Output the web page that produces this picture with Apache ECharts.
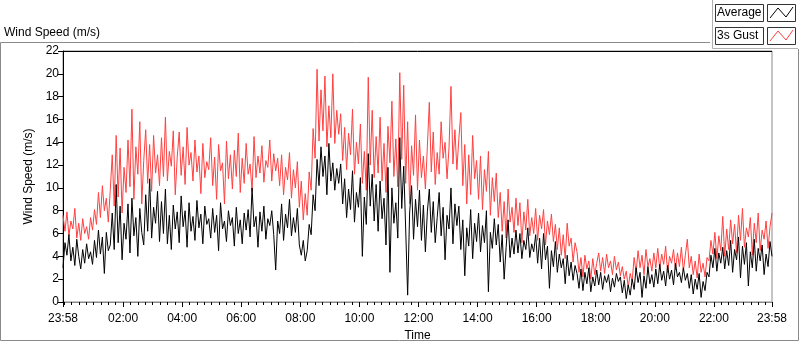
<!DOCTYPE html>
<html>
<head>
<meta charset="utf-8">
<script src="https://cdn.jsdelivr.net/npm/echarts@6/dist/echarts.min.js"></script>
<style>
  html, body { margin: 0; padding: 0; background: #fff; }
  #chart { width: 800px; height: 342px; }
</style>
</head>
<body>
<div id="chart"></div>
<script>
// one sample every 4 minutes, starting at 23:58
var stepMin = 4;
var startClock = 23 * 60 + 58;

var gust = [
  7.6, 6.2, 7.9, 5.8, 7.1, 6.4, 8.2, 5.6, 6.9, 5.4, 7.3, 6.0, 6.6, 5.5, 7.4, 6.3,
  8.1, 6.8, 9.6, 7.4, 10.2, 8.0, 9.1, 7.0, 9.8,
  12.9, 8.4, 14.6, 9.2, 13.5, 7.8, 11.8, 9.6,
  14.2, 10.1, 16.9, 9.0, 13.6, 11.2, 15.8, 8.6, 12.4,
  15.1, 10.4, 13.8, 9.7, 14.6, 11.3, 12.9, 10.2,
  14.4, 11.0, 16.2, 10.6, 13.2, 11.9, 15.0, 9.4, 12.7,
  14.9, 11.1, 13.6, 10.3, 15.3, 12.0, 13.1, 10.6,
  14.2, 11.4, 12.8, 9.5, 13.9, 10.9, 12.3, 11.6, 14.4,
  10.2, 12.7, 9.0, 13.8, 11.5, 12.2, 8.6, 14.1, 10.8, 12.9, 9.9, 13.3, 11.0, 14.8, 9.6,
  12.6, 10.4, 13.9, 11.2, 12.1, 9.7, 14.5, 10.9, 12.8,
  11.3, 13.7, 10.5, 12.4, 11.8, 14.2, 10.6, 13.0, 11.5, 12.6,
  10.2, 12.9, 9.4, 11.8, 10.7, 13.1, 9.1, 11.6, 10.0, 12.3,
  8.3, 10.6, 7.2, 9.5, 7.6,
  11.4, 9.8, 15.2, 12.6, 20.4,
  14.1, 18.6, 15.0, 19.8, 13.6, 17.2, 14.4, 20.0, 13.9, 16.8, 14.7,
  16.5, 12.4, 15.3, 11.6, 14.8, 12.9, 16.9, 11.2, 14.0, 12.1,
  15.6, 10.4, 13.2, 9.8, 19.7, 12.0, 16.8, 10.9, 14.5, 11.3,
  16.2, 10.6, 13.9, 9.6, 15.4, 12.2, 17.6, 11.0, 14.3, 10.1,
  20.1, 12.5, 19.0, 10.4, 15.8, 8.6, 13.7, 11.1, 16.4, 9.8,
  14.2, 10.9, 12.8, 9.9, 13.6, 17.5, 11.4, 14.9, 10.3, 13.1,
  11.2, 15.8, 12.6, 14.0, 10.8, 13.5, 18.9, 12.1, 15.1, 11.6,
  14.3, 16.6, 10.2, 13.8, 8.6, 12.9, 9.4, 14.6, 10.8, 12.4,
  9.0, 12.8, 8.1, 11.6, 9.7, 13.2, 7.6, 10.9, 8.8, 11.3,
  7.4, 9.6, 6.2, 8.8, 5.6, 9.9, 7.0, 8.3, 6.1, 9.1,
  6.7, 8.7, 5.2, 7.9, 6.3, 9.0, 5.8, 7.4, 6.0, 8.2,
  5.4, 7.6, 6.4, 8.1, 5.0, 7.1, 5.9, 7.7, 5.3, 6.8,
  4.6, 6.5, 4.1, 5.9, 3.8, 6.9, 4.9, 5.6, 3.5, 5.2,
  4.4, 2.6, 3.9, 2.2, 4.1, 2.9, 3.6, 2.0, 3.8, 2.4, 3.4,
  4.3, 2.7, 3.9, 2.5, 4.2, 3.0, 3.6, 2.4, 4.0, 2.8, 3.5, 2.3,
  3.1, 2.0, 2.7, 1.3, 2.5, 1.8,
  3.9, 2.6, 4.5, 3.0, 4.1, 2.4, 4.6, 3.1, 3.8, 2.7, 4.3,
  3.0, 4.7, 2.9, 4.2, 3.3, 4.9, 2.6, 4.0, 3.4, 4.6, 2.8, 4.3, 3.1, 4.8, 2.7, 4.1, 5.5,
  3.0, 4.0, 2.4, 3.6, 2.1, 4.2, 2.6, 3.4, 2.2, 3.9,
  3.6, 5.4, 4.2, 6.1, 3.8, 5.8, 4.5, 7.5, 4.0, 6.4,
  4.6, 7.2, 5.1, 6.8, 4.3, 7.6, 5.4, 8.2, 4.8, 6.5, 5.7, 7.4, 4.1, 6.9, 5.2, 7.8,
  4.5, 6.3, 5.5, 7.1, 4.7, 6.6, 7.8
];

var average = [
  3.0, 5.2, 4.1, 5.9, 3.6, 4.8, 3.2, 5.5, 4.0, 2.9, 4.6, 3.4, 5.1, 3.8, 4.4, 3.3,
  5.4, 3.9, 6.3, 4.2, 5.7, 2.5, 6.1, 4.5, 5.0,
  7.8, 4.6, 10.3, 5.2, 8.4, 3.7, 6.9, 5.5,
  8.6, 4.3, 9.1, 5.8, 7.4, 4.0, 8.2, 6.1, 5.0,
  9.4, 6.2, 10.8, 5.6, 8.3, 6.9, 9.7, 5.3,
  8.8, 6.0, 9.9, 5.1, 7.6, 4.6, 8.5, 6.4, 7.9,
  5.2, 9.3, 6.6, 8.0, 4.8, 8.7, 6.2, 7.5,
  5.4, 8.9, 6.5, 7.7, 5.1, 8.4, 6.8, 7.3, 5.6,
  8.2, 6.1, 7.6, 4.5, 8.7, 6.4, 7.1, 5.3, 8.0, 6.7, 7.4, 4.9, 8.3, 6.0, 7.2,
  5.1, 7.8, 6.3, 8.1, 5.7, 10.0, 6.6, 7.5, 4.8,
  7.9, 6.2, 8.4, 5.5, 7.3, 6.7, 8.0, 5.9, 2.8, 7.1,
  6.0, 8.6, 5.4, 7.7, 6.5, 9.0, 5.8, 7.4, 6.1, 8.2,
  5.0, 4.1, 5.4, 3.6, 4.5,
  6.8, 5.9, 9.4, 8.0, 12.5,
  10.2, 13.6, 11.0, 12.8, 9.4, 13.9, 10.6, 12.2, 9.8, 11.7, 10.4,
  12.1, 8.6, 10.8, 7.4, 9.9, 8.1, 11.5, 7.0, 9.6, 8.3,
  10.9, 4.0, 9.2, 6.8, 13.0, 8.4, 11.2, 7.1, 10.3, 6.2,
  10.6, 7.3, 9.1, 5.0, 11.8, 2.6, 10.0, 6.9, 8.7, 5.6,
  14.4, 8.2, 11.9, 6.4, 0.6, 7.8, 10.2, 5.5, 9.0, 6.6,
  9.8, 5.4, 8.5, 4.4, 7.9, 9.9, 6.1, 8.8, 5.2, 7.4,
  9.6, 5.8, 8.3, 3.7, 7.6, 6.4, 10.0, 5.1, 8.6, 6.7,
  8.4, 4.6, 7.2, 2.3, 6.5, 4.9, 8.1, 3.8, 6.9, 5.3,
  7.8, 4.4, 6.7, 5.2, 8.0, 0.9, 6.1, 4.7, 7.3, 5.0,
  6.8, 3.5, 5.9, 2.0, 4.8, 7.2, 3.9, 5.6, 4.2, 6.3,
  4.3, 6.0, 3.8, 5.4, 4.6, 6.5, 3.9, 5.1, 4.4, 5.9,
  3.4, 5.6, 2.9, 6.0, 3.7, 4.9, 1.2, 4.5, 3.1, 5.3,
  2.6, 4.2, 3.0, 3.8, 1.6, 4.1, 2.3, 3.5, 1.9, 3.2,
  2.5, 1.2, 2.9, 1.0, 2.6, 1.6, 3.0, 0.9, 2.2, 1.4, 2.8,
  1.5, 2.6, 1.1, 2.3, 1.7, 2.4, 0.9, 2.1, 1.3, 2.5, 1.8, 2.2,
  0.8, 1.9, 0.3, 1.5, 0.6, 2.0,
  1.1, 3.0, 1.7, 2.6, 0.4, 2.3, 1.2, 3.1, 1.6, 2.4, 1.3,
  2.9, 1.6, 3.3, 1.9, 2.7, 1.4, 3.2, 2.0, 2.8, 1.5, 3.4, 2.2, 2.6, 1.7, 3.0, 1.9, 2.5,
  1.2, 2.4, 0.7, 2.0, 1.1, 2.5, 0.4, 1.8, 1.0, 2.6,
  2.2, 4.1, 3.0, 4.7, 2.7, 4.3, 3.4, 4.8, 2.9, 4.5,
  3.2, 5.4, 2.6, 4.6, 3.7, 5.7, 2.1, 4.9, 3.3, 5.2, 1.4, 4.4, 3.0, 5.5, 2.7, 4.7,
  3.6, 5.0, 2.4, 4.2, 3.1, 5.3, 4.0
];

// x positions of ticks, minutes after 23:58
var majorTicks = [0, 122, 242, 362, 482, 602, 722, 842, 962, 1082, 1202, 1322, 1440];
var minorTicks = [];
for (var t = 2; t < 1440; t += 15) minorTicks.push(t);

function toPairs(arr) {
  return arr.map(function (v, i) { return [i * stepMin, v]; });
}

function clockLabel(v) {
  var total = (startClock + v) % 1440;
  var h = Math.floor(total / 60), m = total % 60;
  return (h < 10 ? '0' : '') + h + ':' + (m < 10 ? '0' : '') + m;
}

var chart = echarts.init(document.getElementById('chart'));
var font = 'Liberation Sans';

var option = {
  animation: false,
  textStyle: { fontFamily: font },
  grid: {
    left: 63, right: 28, top: 51, bottom: 40, outerBoundsMode: 'none', containLabel: false,
    show: true, borderColor: '#8a8a8a', borderWidth: 1
  },
  xAxis: [{
    type: 'value', min: 0, max: 1440,
    name: 'Time', nameLocation: 'middle', nameGap: 28,
    nameTextStyle: { color: '#000', fontSize: 12, fontFamily: font },
    axisLine: { show: true, lineStyle: { color: '#8a8a8a', width: 1 } },
    axisTick: { show: true, customValues: majorTicks, length: 5, lineStyle: { color: '#000' } },
    axisLabel: {
      customValues: majorTicks, margin: 11, color: '#000', fontSize: 12, fontFamily: font,
      showMinLabel: true, showMaxLabel: true, formatter: clockLabel
    },
    splitLine: { show: false }
  }, {
    type: 'value', min: 0, max: 1440, position: 'bottom',
    axisLine: { show: false },
    axisTick: { show: true, customValues: minorTicks, length: 3, lineStyle: { color: '#000' } },
    axisLabel: { show: false },
    splitLine: { show: false }
  }],
  yAxis: {
    type: 'value', min: 0, max: 22, interval: 2,
    name: 'Wind Speed (m/s)', nameLocation: 'middle', nameGap: 27,
    nameTextStyle: { color: '#000', fontSize: 12, fontFamily: font },
    axisLine: { show: true, lineStyle: { color: '#000', width: 1 } },
    axisTick: { show: true, length: 5, lineStyle: { color: '#000' } },
    axisLabel: { margin: 4, color: '#000', fontSize: 12, fontFamily: font },
    splitLine: { show: false }
  },
  series: [{
    name: '3s Gust', type: 'line', data: toPairs(gust),
    showSymbol: false, lineStyle: { color: '#ff4040', width: 1 }, itemStyle: { color: '#ff4040' }
  }, {
    name: 'Average', type: 'line', data: toPairs(average),
    showSymbol: false, lineStyle: { color: '#000', width: 1 }, itemStyle: { color: '#000' }
  }],
  graphic: [
    // outer panel frame
    { type: 'polyline', silent: true, shape: { points: [[710, 42.5], [0.5, 42.5], [0.5, 340.5], [798.5, 340.5], [798.5, 49]] },
      style: { stroke: '#8a8a8a', lineWidth: 1, fill: null } },
    { type: 'polyline', silent: true, shape: { points: [[712.5, 0], [712.5, 48.5], [798, 48.5]] },
      style: { stroke: '#b0b0b0', lineWidth: 1, fill: null } },
    // top edge of plot
    { type: 'line', silent: true, shape: { x1: 63, y1: 51.5, x2: 772, y2: 51.5 }, style: { stroke: '#000', lineWidth: 1 } },
    { type: 'text', left: 4, top: 27, style: { text: 'Wind Speed (m/s)', fill: '#000', font: '12px ' + font } },
    // legend
    { type: 'rect', shape: { x: 715.5, y: 4.5, width: 48, height: 17 }, style: { fill: '#fff', stroke: '#333', lineWidth: 1 } },
    { type: 'text', left: 717, top: 7, style: { text: 'Average', fill: '#000', font: '12px ' + font } },
    { type: 'rect', shape: { x: 767.5, y: 4.5, width: 28, height: 17 }, style: { fill: '#fff', stroke: '#333', lineWidth: 1 } },
    { type: 'polyline', shape: { points: [[770, 18], [778, 8], [786, 17], [793, 7]] }, style: { stroke: '#000', lineWidth: 1, fill: null } },
    { type: 'rect', shape: { x: 715.5, y: 27.5, width: 48, height: 17 }, style: { fill: '#fff', stroke: '#333', lineWidth: 1 } },
    { type: 'text', left: 717, top: 30, style: { text: '3s Gust', fill: '#000', font: '12px ' + font } },
    { type: 'rect', shape: { x: 767.5, y: 27.5, width: 28, height: 17 }, style: { fill: '#fff', stroke: '#333', lineWidth: 1 } },
    { type: 'polyline', shape: { points: [[770, 41], [778, 31], [786, 40], [793, 30]] }, style: { stroke: '#ff4040', lineWidth: 1, fill: null } }
  ]
};

chart.setOption(option);
</script>
</body>
</html>
